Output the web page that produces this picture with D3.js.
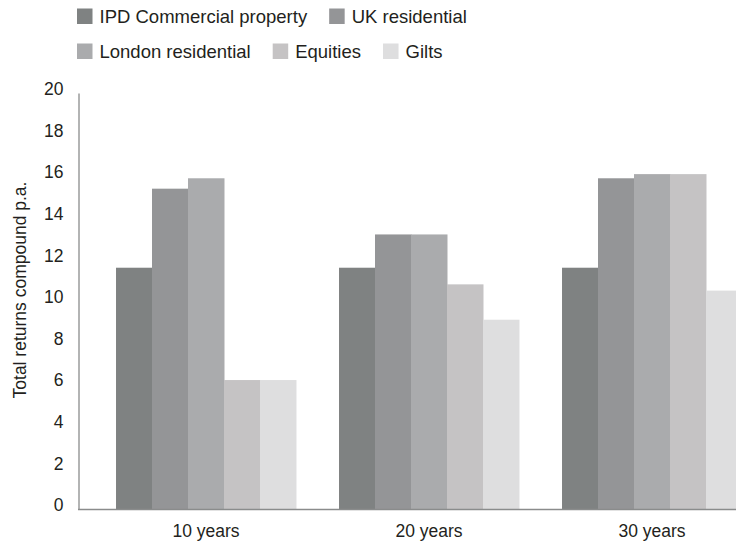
<!DOCTYPE html>
<html>
<head>
<meta charset="utf-8">
<script src="https://cdn.jsdelivr.net/npm/d3@7"></script>
<style>
  body { margin: 0; background: #fff; }
  svg { display: block; font-family: "Liberation Sans", Arial, sans-serif; }
</style>
</head>
<body>
<div id="chart"></div>
<script>
// Periods along the x axis
const periods = ["10 years", "20 years", "30 years"];

// Asset classes (legend order)
const assets = ["IPD Commercial property", "UK residential", "London residential", "Equities", "Gilts"];

// Total returns compound p.a., one value per period
const ipdCommercial = [11.6, 11.6, 11.6];
const ukResidential = [15.4, 13.2, 15.9];
const londonResidential = [15.9, 13.2, 16.1];
const equities = [6.2, 10.8, 16.1];
const gilts = [6.2, 9.1, 10.5];

const yTicks = [0, 2, 4, 6, 8, 10, 12, 14, 16, 18, 20];

const seriesValues = [ipdCommercial, ukResidential, londonResidential, equities, gilts];
const colors = ["#7f8282", "#949597", "#aaabad", "#c5c3c4", "#dededf"];

const width = 736;
const height = 544;

const svg = d3.select("#chart")
  .append("svg")
  .attr("width", width)
  .attr("height", height);

// --- scales ---
// outer band runs past the right edge, the picture is cut there
const x0 = d3.scaleBand()
  .domain(periods)
  .range([79, 779])
  .paddingInner(0.193)
  .paddingOuter(0.166);

const x1 = d3.scaleBand()
  .domain(assets)
  .range([0, x0.bandwidth()]);

const y = d3.scaleLinear()
  .domain([0, 20])
  .range([509, 93]);

const color = d3.scaleOrdinal().domain(assets).range(colors);

// --- bars ---
const rows = periods.map((p, i) => ({
  period: p,
  values: assets.map((a, j) => ({ asset: a, value: seriesValues[j][i] }))
}));

svg.append("g")
  .selectAll("g")
  .data(rows)
  .join("g")
  .attr("transform", d => `translate(${x0(d.period)},0)`)
  .selectAll("rect")
  .data(d => d.values)
  .join("rect")
  .attr("x", d => x1(d.asset))
  .attr("y", d => y(d.value))
  .attr("width", x1.bandwidth() + 0.5)
  .attr("height", d => y(0) - y(d.value))
  .attr("fill", d => color(d.asset));

// --- y axis (line + labels, no tick marks) ---
const yAxis = svg.append("g")
  .attr("transform", "translate(78.5,0)")
  .call(d3.axisLeft(y).tickValues(yTicks).tickSize(0).tickPadding(15));
yAxis.select(".domain").attr("stroke", "#8a8c8c").attr("stroke-width", 1.3);
yAxis.selectAll("text")
  .attr("font-size", 17.5)
  .attr("fill", "#231f20")
  .attr("dy", "0.1em")
  .style("font-family", "Liberation Sans, Arial, sans-serif");

// --- x axis ---
const xAxis = svg.append("g")
  .attr("transform", "translate(0,509)")
  .call(d3.axisBottom(x0).tickSize(0).tickPadding(16));
xAxis.select(".domain").attr("stroke", "#8a8c8c").attr("stroke-width", 1.3)
  .attr("d", "M78,0.5H736");
xAxis.selectAll("text")
  .attr("font-size", 17.5)
  .attr("fill", "#231f20")
  .style("font-family", "Liberation Sans, Arial, sans-serif");

// y axis title
svg.append("text")
  .attr("transform", "translate(26,290) rotate(-90)")
  .attr("text-anchor", "middle")
  .attr("font-size", 17.5)
  .attr("fill", "#231f20")
  .text("Total returns compound p.a.");

// --- legend, two rows, items flow left to right ---
const legendRows = [assets.slice(0, 2), assets.slice(2)];
legendRows.forEach((items, r) => {
  let lx = 77;
  const ly = 8.5 + r * 35;
  items.forEach(a => {
    svg.append("rect")
      .attr("x", lx).attr("y", ly)
      .attr("width", 15.5).attr("height", 15.5)
      .attr("fill", color(a));
    const t = svg.append("text")
      .attr("x", lx + 22.5)
      .attr("y", ly + 14.5)
      .attr("font-size", 18.5)
      .attr("fill", "#231f20")
      .text(a);
    lx += 22.5 + t.node().getComputedTextLength() + 22;
  });
});
</script>
</body>
</html>
